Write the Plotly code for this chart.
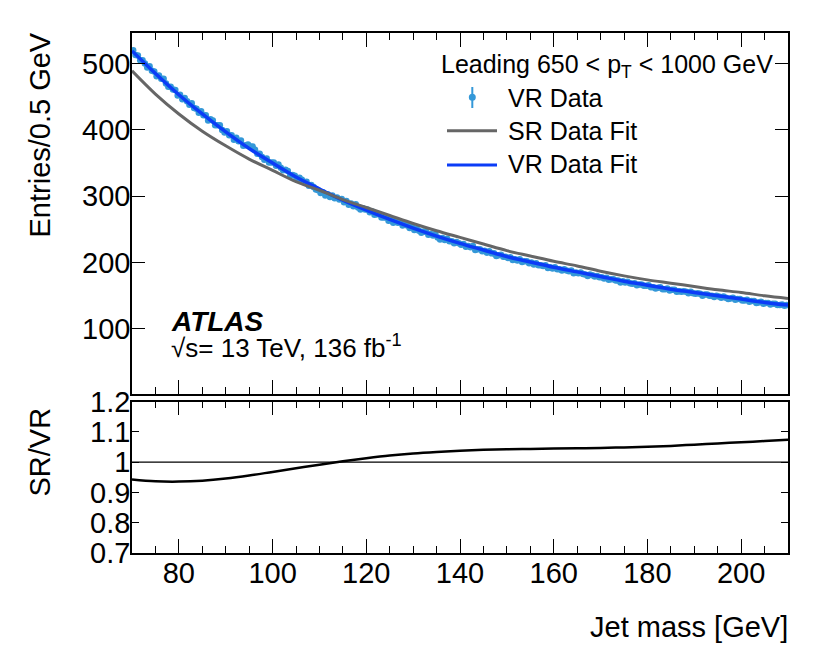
import numpy as np
import plotly.graph_objects as go

# ---------------- data ----------------
bin_lo, bin_hi, bin_w = 70.0, 210.0, 0.5
data_mass = np.arange(bin_lo + bin_w / 2, bin_hi, bin_w)

vr_data = [
    520, 513, 512, 505, 505, 500, 494, 496, 489, 488,
    481, 482, 477, 477, 470, 465, 465, 461, 460, 452,
    453, 446, 448, 443, 438, 440, 433, 432, 426, 428,
    422, 422, 414, 416, 414, 407, 407, 407, 400, 396,
    398, 392, 392, 385, 388, 383, 384, 376, 377, 378,
    375, 375, 370, 364, 364, 359, 355, 357, 351, 351,
    351, 346, 348, 343, 339, 340, 338, 331, 332, 331,
    327, 328, 325, 321, 322, 316, 317, 314, 310, 309,
    305, 306, 301, 303, 299, 301, 297, 298, 295, 296,
    291, 293, 287, 289, 285, 288, 283, 280, 282, 280,
    280, 276, 277, 272, 273, 273, 268, 268, 268, 263,
    264, 260, 263, 260, 261, 256, 257, 256, 252, 254,
    249, 251, 248, 245, 247, 246, 242, 243, 241, 243,
    238, 235, 237, 234, 236, 232, 232, 229, 231, 229,
    227, 228, 224, 225, 223, 225, 219, 220, 220, 217,
    218, 215, 217, 214, 214, 210, 211, 212, 209, 209,
    207, 208, 204, 205, 203, 205, 201, 202, 202, 199,
    200, 197, 199, 196, 196, 195, 196, 192, 193, 191,
    193, 190, 190, 188, 190, 188, 187, 188, 184, 185,
    184, 185, 183, 182, 180, 182, 181, 179, 180, 178,
    178, 176, 177, 174, 175, 175, 173, 173, 170, 172,
    170, 171, 169, 168, 169, 166, 167, 167, 165, 165,
    166, 163, 163, 161, 162, 163, 160, 160, 161, 158,
    159, 159, 156, 157, 156, 157, 156, 154, 156, 154,
    153, 154, 153, 150, 152, 152, 150, 150, 148, 150,
    149, 147, 149, 147, 145, 146, 147, 144, 145, 145,
    143, 143, 144, 141, 142, 142, 139, 140, 141, 138,
    139, 139, 137, 138, 138, 136, 136, 137, 135, 136,
]

fit_mass = [70, 75, 80, 85, 90, 95, 100, 105, 110, 115, 120, 125, 130, 135,
            140, 145, 150, 155, 160, 165, 170, 175, 180, 185, 190, 195, 200,
            205, 210]
vr_fit = [519, 485, 453, 424, 397, 372, 350, 329, 311, 294, 279, 265, 252, 240,
          229, 219, 209, 201, 193, 186, 179, 172, 166, 160, 155, 150, 145,
          140, 136]
sr_fit = [489, 454, 424, 398, 376, 356, 339, 322, 309, 295, 283, 271, 259, 248,
          238, 228, 218, 210, 202, 195, 187, 180, 174, 169, 164, 159, 155,
          150, 146]
ratio = [0.943, 0.937, 0.936, 0.939, 0.946, 0.956, 0.968, 0.980, 0.992, 1.003,
         1.013, 1.022, 1.029, 1.034, 1.038, 1.041, 1.043, 1.044, 1.045, 1.046,
         1.047, 1.049, 1.051, 1.054, 1.058, 1.062, 1.066, 1.070, 1.074]

legend_labels = ["VR Data", "SR Data Fit", "VR Data Fit"]
header_text = "Leading 650 &lt; p<sub>T</sub> &lt; 1000 GeV"

# ---------------- styling ----------------
FONT = "Liberation Sans, Arial, Helvetica, sans-serif"
C_DATA = "#3498d8"
C_VR = "#0b3cf7"
C_SR = "#666666"

W, H = 830, 659
# the page body adds an 8 px offset; margins compensate so that the
# plot area lands at x 132..788, y 33..553 in the window
OFF = 8
ML, MT = 132 - OFF, 33 - OFF
PW, PH = 656, 520
MR = W - ML - PW
MB = H - MT - PH


def px(xp):
    return (xp - OFF - ML) / PW


def py(yp):
    return (MT + PH - (yp - OFF)) / PH


fig = go.Figure()

fig.add_trace(go.Scatter(x=data_mass, y=vr_data, mode="markers",
                         marker=dict(color=C_DATA, size=6.5),
                         xaxis="x", yaxis="y", showlegend=False))
fig.add_trace(go.Scatter(x=fit_mass, y=vr_fit, mode="lines",
                         line=dict(color=C_VR, width=3.5, shape="spline"),
                         xaxis="x", yaxis="y", showlegend=False))
fig.add_trace(go.Scatter(x=fit_mass, y=sr_fit, mode="lines",
                         line=dict(color=C_SR, width=3, shape="spline"),
                         xaxis="x", yaxis="y", showlegend=False))
fig.add_trace(go.Scatter(x=fit_mass, y=ratio, mode="lines",
                         line=dict(color="black", width=2.5, shape="spline"),
                         xaxis="x2", yaxis="y2", showlegend=False))

main_bottom = py(394)
ratio_top = py(401.7)

tickfont = dict(family=FONT, size=29, color="black")
common_x = dict(range=[bin_lo, bin_hi], tick0=0, dtick=20, ticks="inside",
                ticklen=14, tickwidth=1.2, tickcolor="black",
                minor=dict(dtick=5, ticks="inside", ticklen=7, tickwidth=1.2,
                           tickcolor="black", showgrid=False),
                showline=True, linecolor="black", linewidth=1.5,
                mirror="ticks", showgrid=False, zeroline=False,
                tickfont=tickfont)

fig.update_layout(
    width=W, height=H,
    margin=dict(l=ML, r=MR, t=MT, b=MB, autoexpand=False),
    paper_bgcolor="white", plot_bgcolor="white",
    showlegend=False,
    xaxis=dict(domain=[0, 1], anchor="y", showticklabels=False, **common_x),
    yaxis=dict(domain=[main_bottom, 1], anchor="x", range=[2, 546],
               tick0=0, dtick=100, ticks="inside", ticklen=13, tickwidth=1.2,
               tickcolor="black", showline=True, linecolor="black",
               linewidth=1.5, mirror="ticks", showgrid=False, zeroline=False,
               ticklabelstandoff=-6, tickfont=tickfont),
    xaxis2=dict(domain=[0, 1], anchor="y2", ticklabelstandoff=-7, **common_x),
    yaxis2=dict(domain=[0, ratio_top], anchor="x2", range=[0.7, 1.2],
                tick0=0.7, dtick=0.1, ticks="inside", ticklen=7, tickwidth=1.2,
                tickcolor="black", showline=True, linecolor="black",
                linewidth=1.5, mirror="ticks", showgrid=False, zeroline=False,
                ticklabelstandoff=-6, tickfont=tickfont),
)

shapes = [
    dict(type="line", xref="x2", yref="y2", x0=bin_lo, x1=bin_hi, y0=1, y1=1,
         line=dict(color="black", width=1.2)),
    # legend symbols
    dict(type="line", xref="paper", yref="paper", x0=px(472.3), x1=px(472.3),
         y0=py(87), y1=py(108), line=dict(color=C_DATA, width=2)),
    dict(type="circle", xref="paper", yref="paper", x0=px(468.8), x1=px(475.8),
         y0=py(93.8), y1=py(100.8), fillcolor=C_DATA, line=dict(color=C_DATA, width=0)),
    dict(type="line", xref="paper", yref="paper", x0=px(447), x1=px(497),
         y0=py(130.7), y1=py(130.7), line=dict(color=C_SR, width=3)),
    dict(type="line", xref="paper", yref="paper", x0=px(447), x1=px(497),
         y0=py(165), y1=py(165), line=dict(color=C_VR, width=3)),
]

tf = dict(family=FONT, size=25, color="black")
annotations = [
    dict(text=header_text, x=px(775), y=py(66), xref="paper", yref="paper",
         xanchor="right", yanchor="middle", showarrow=False, font=tf),
    dict(text=legend_labels[0], x=px(506), y=py(97.5), xref="paper", yref="paper",
         xanchor="left", yanchor="middle", showarrow=False, font=tf),
    dict(text=legend_labels[1], x=px(506), y=py(130.5), xref="paper", yref="paper",
         xanchor="left", yanchor="middle", showarrow=False, font=tf),
    dict(text=legend_labels[2], x=px(506), y=py(164), xref="paper", yref="paper",
         xanchor="left", yanchor="middle", showarrow=False, font=tf),
    dict(text="<b><i>ATLAS</i></b>", x=px(169), y=py(321), xref="paper", yref="paper",
         xanchor="left", yanchor="middle", showarrow=False,
         font=dict(family=FONT, size=28, color="black")),
    dict(text="\u221as= 13 TeV, 136 fb<sup>-1</sup>", x=px(169), y=py(346),
         xref="paper", yref="paper", xanchor="left", yanchor="middle",
         showarrow=False, font=dict(family=FONT, size=26, color="black")),
    dict(text="Entries/0.5 GeV", textangle=-90, x=px(39), y=py(31),
         xref="paper", yref="paper", xanchor="center", yanchor="top",
         showarrow=False, font=tickfont),
    dict(text="SR/VR", textangle=-90, x=px(39), y=py(406),
         xref="paper", yref="paper", xanchor="center", yanchor="top",
         showarrow=False, font=tickfont),
    dict(text="Jet mass [GeV]", x=px(790), y=py(627), xref="paper", yref="paper",
         xanchor="right", yanchor="middle", showarrow=False, font=tickfont),
]

fig.update_layout(shapes=shapes, annotations=annotations)
fig.write_html("out.html")
